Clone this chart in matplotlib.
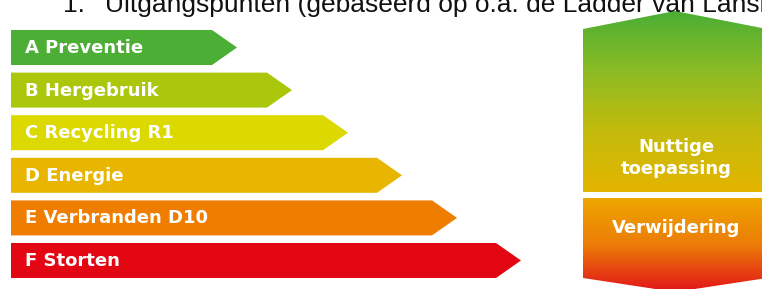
import matplotlib
matplotlib.use("Agg")
import matplotlib.pyplot as plt
import numpy as np
from matplotlib.patches import Polygon
from matplotlib.colors import LinearSegmentedColormap

# ---- data ----
labels = ["A Preventie", "B Hergebruik", "C Recycling R1", "D Energie",
          "E Verbranden D10", "F Storten"]
tip_x = [237, 292, 348, 402, 457, 521]
colors = ["#4cae34", "#abc70c", "#dcd900", "#e8b500", "#ee7d00", "#e30613"]
side_labels = ["Nuttige\ntoepassing", "Verwijdering"]
upper_colors = ["#4aae34", "#8dbc24", "#c4bb0c", "#e4b500"]
lower_colors = ["#eea600", "#ec7c08", "#e3141a"]
title_num = "1."
title_text = "Uitgangspunten (gebaseerd op o.a. de Ladder van Lansink)"

W, H = 762, 289
fig = plt.figure(figsize=(W / 100, H / 100), dpi=100)
ax = fig.add_axes([0, 0, 1, 1])
ax.set_xlim(0, W)
ax.set_ylim(H, 0)
ax.axis("off")

# ---- title (cut off at top, as in the source) ----
ax.text(63, 12, title_num, fontsize=19, family="Liberation Sans",
        va="baseline", ha="left", color="#111111")
ax.text(105, 12, title_text, fontsize=19, family="Liberation Sans",
        va="baseline", ha="left", color="#111111")

# ---- arrows ----
x_left = 11
bar_h = 35
step = 42.6
y_top0 = 30
tip_len = 25
for i, (lab, tx, c) in enumerate(zip(labels, tip_x, colors)):
    y0 = y_top0 + i * step
    y1 = y0 + bar_h
    ym = (y0 + y1) / 2
    poly = Polygon([(x_left, y0), (tx - tip_len, y0), (tx, ym),
                    (tx - tip_len, y1), (x_left, y1)],
                   closed=True, facecolor=c, edgecolor="none")
    ax.add_patch(poly)
    ax.text(x_left + 14, ym + 0.5, lab, color="white", fontsize=13,
            fontweight="bold", family="DejaVu Sans", va="center", ha="left")

# ---- right block ----
xl, xr, xc = 583, 767, 675
up_top, up_peak, up_bot = 29, 11, 192
lo_top, lo_bot, lo_peak = 198, 278, 292

up_poly = Polygon([(xl, up_top), (xc, up_peak), (xr, up_top), (xr, up_bot),
                   (xl, up_bot)], closed=True, facecolor="none", edgecolor="none")
lo_poly = Polygon([(xl, lo_top), (xr, lo_top), (xr, lo_bot), (xc, lo_peak),
                   (xl, lo_bot)], closed=True, facecolor="none", edgecolor="none")
ax.add_patch(up_poly)
ax.add_patch(lo_poly)

grad = np.linspace(0, 1, 256).reshape(-1, 1)
cm_up = LinearSegmentedColormap.from_list("up", upper_colors)
cm_lo = LinearSegmentedColormap.from_list("lo", lower_colors)
im1 = ax.imshow(grad, extent=[xl, xr, up_bot, up_peak], origin="upper",
                cmap=cm_up, aspect="auto", interpolation="bilinear")
im1.set_clip_path(up_poly)
im2 = ax.imshow(grad, extent=[xl, xr, lo_peak, lo_top], origin="upper",
                cmap=cm_lo, aspect="auto", interpolation="bilinear")
im2.set_clip_path(lo_poly)
ax.set_xlim(0, W)
ax.set_ylim(H, 0)

ax.text(676, 158, side_labels[0], color="white", fontsize=13, fontweight="bold",
        family="DejaVu Sans", ha="center", va="center", linespacing=1.3)
ax.text(676, 228, side_labels[1], color="white", fontsize=13, fontweight="bold",
        family="DejaVu Sans", ha="center", va="center")

fig.savefig("out.png", dpi=100)
